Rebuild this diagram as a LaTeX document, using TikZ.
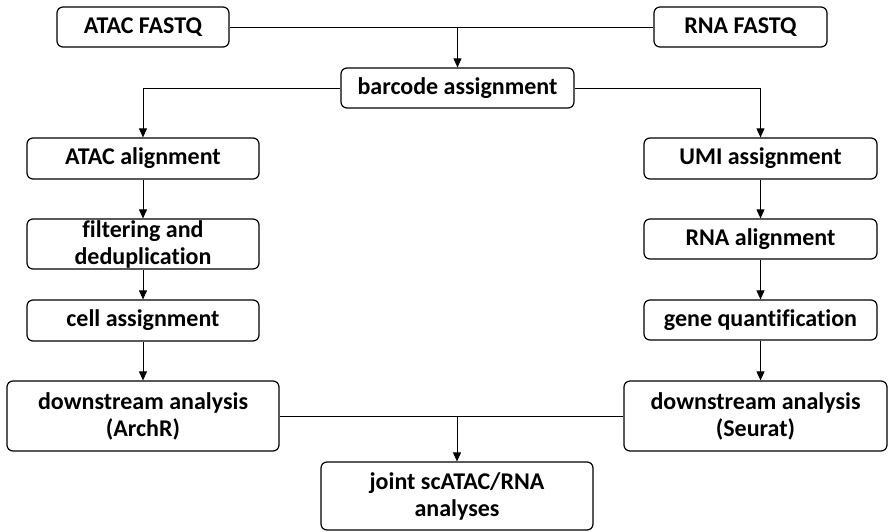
\documentclass[tikz,border=0pt]{standalone}
\usepackage{fontspec}
\setmainfont{Carlito}[Ligatures=NoCommon]
\usepackage{tikz}
\usetikzlibrary{positioning}
\usetikzlibrary{arrows.meta}
\usetikzlibrary{calc}
\tikzstyle{stepbox}=[draw,rounded corners=6pt,line width=1.2pt,align=center,inner sep=0pt,font=\bfseries\fontsize{24}{27}\selectfont]
\tikzstyle{flow} = [draw,line width=0.9pt,-{Triangle[length=9pt,width=8pt]}]
\tikzstyle{link} = [draw,line width=0.9pt]

\begin{document}
\begin{tikzpicture}[x=1pt,y=-1pt]
    \useasboundingbox (0,0) rectangle (889,531);
    % First we draw the boxes
    \foreach \pos/\name/\bw/\bh/\txt in {{(143,27)/atacfq/172/40/ATAC FASTQ}, {(740.5,27)/rnafq/173/40/RNA FASTQ},
        {(457.5,88)/barcode/233/40/barcode assignment},
        {(143,158.5)/atacalign/232/41/ATAC alignment}, {(143,244)/filter/232/50/{filtering and\\deduplication}},
        {(143,320.5)/cell/232/41/cell assignment}, {(143,416)/archr/272/70/{downstream analysis\\(ArchR)}},
        {(760.5,158.5)/umi/233/41/UMI assignment}, {(760.5,239)/rnaalign/233/40/RNA alignment},
        {(760.5,320)/gene/233/40/gene quantification}, {(755.5,416)/seurat/263/70/{downstream analysis\\(Seurat)}},
        {(457,496)/joint/272/68/{joint scATAC/RNA\\analyses}}}
            \node[stepbox,minimum width=\bw pt,minimum height=\bh pt] (\name) at \pos {\txt};

    % Then the connectors
    \coordinate (topmid) at (barcode.north |- atacfq.east);
    \coordinate (botmid) at (joint.north |- archr.east);
    \path[link] (atacfq.east) -- (rnafq.west);
    \path[flow] (topmid) -- (barcode.north);
    \path[flow] (barcode.west) -| (atacalign.north);
    \path[flow] (barcode.east) -| (umi.north);

    \foreach \source/\dest in {atacalign/filter, filter/cell, cell/archr, umi/rnaalign, rnaalign/gene}
        \path[flow] (\source) -- (\dest);
    \path[flow] (gene.south) -- (gene.south |- seurat.north);

    \path[link] (archr.east) -- (seurat.west);
    \path[flow] (botmid) -- (joint.north);
\end{tikzpicture}
\end{document}
